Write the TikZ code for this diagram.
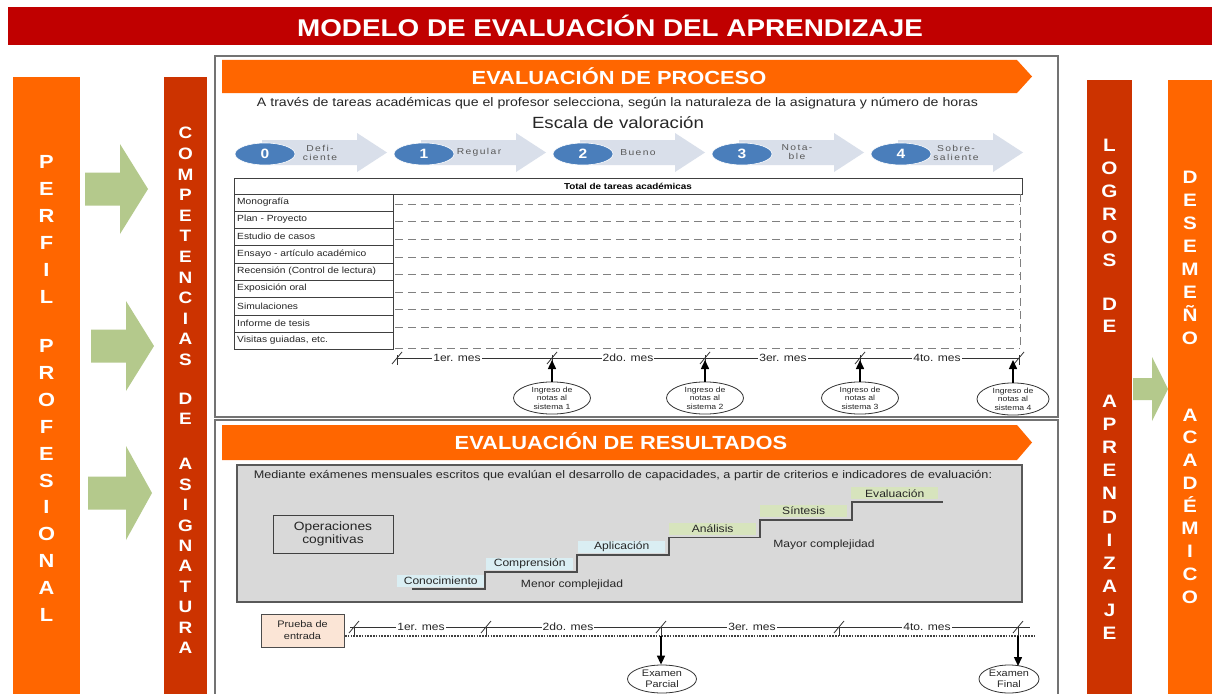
\documentclass[tikz,border=0pt]{standalone}
\usepackage{fontspec}
\setmainfont{Liberation Sans}[FakeStretch=1.15]
\newfontfamily\spacedfont{Liberation Sans}[FakeStretch=1.2,LetterSpace=16]
\usetikzlibrary{arrows.meta,shapes.geometric}
\definecolor{titlered}{HTML}{C00000}
\definecolor{orng}{HTML}{FF6600}
\definecolor{darkorng}{HTML}{CC3300}
\definecolor{agreen}{HTML}{B4C98C}
\definecolor{chev}{HTML}{D9DFEA}
\definecolor{ellblue}{HTML}{4A7EBB}
\definecolor{graybox}{HTML}{D9D9D9}
\definecolor{lblue}{HTML}{DAEEF3}
\definecolor{lgreen}{HTML}{D7E4BD}
\definecolor{peach}{HTML}{FBE5D6}
\definecolor{txtgray}{HTML}{262626}
\tikzset{
  coltext/.style={text=white, align=center, inner sep=0pt},
  boxline/.style={draw=black!55, line width=1.6pt},
  tline/.style={draw=black!75, line width=0.8pt},
  dashline/.style={draw=black!50, line width=0.9pt, dash pattern=on 8pt off 5pt},
  mlabel/.style={fill=white, inner sep=1pt, font=\fontsize{10.5}{11}\selectfont},
  smallell/.style={ellipse, draw=black!80, line width=0.8pt, fill=white, inner sep=0pt, align=center, font=\fontsize{7.5}{8.6}\selectfont},
  steplab/.style={inner sep=0pt, minimum width=87pt, minimum height=12pt, font=\fontsize{10.5}{11}\selectfont, anchor=south west},
  uparrow/.style={line width=1.5pt, -{Triangle[length=9pt,width=8pt]}},
  garrow/.style={fill=agreen}
}
\begin{document}
\begin{tikzpicture}[x=1pt,y=-1pt, font=\fontsize{10}{12}\selectfont, text=txtgray]
\useasboundingbox (0,0) rectangle (1212,693);
\fill[white] (0,0) rectangle (1212,693);

% ---------------- title
\node[fill=titlered, minimum width=1204pt, minimum height=38pt, inner sep=0pt, anchor=north west] (title) at (8,7) {};
\node[text=white, font=\fontsize{24.2}{26}\selectfont\bfseries, inner sep=0pt] (titletxt) at (610,26) {MODELO DE EVALUACIÓN DEL APRENDIZAJE};

% ---------------- side columns
\fill[orng] (13,77) rectangle (80,700);
\fill[darkorng] (164,77) rectangle (207,700);
\fill[darkorng] (1087,80) rectangle (1132,700);
\fill[orng] (1168,80) rectangle (1215,700);

\node[coltext, font=\fontsize{19}{27}\selectfont\bfseries] (perf1) at (46.5,229.5) {P\\E\\R\\F\\I\\L};
\node[coltext, font=\fontsize{19}{26.9}\selectfont\bfseries] (perf2) at (46.5,480.5) {P\\R\\O\\F\\E\\S\\I\\O\\N\\A\\L};

\node[coltext, font=\fontsize{16.5}{20.6}\selectfont\bfseries] (comp1) at (185.5,246.5) {C\\O\\M\\P\\E\\T\\E\\N\\C\\I\\A\\S};
\node[coltext, font=\fontsize{16.5}{20.4}\selectfont\bfseries] (comp2) at (185.5,409) {D\\E};
\node[coltext, font=\fontsize{16.5}{20.4}\selectfont\bfseries] (comp3) at (185.5,556) {A\\S\\I\\G\\N\\A\\T\\U\\R\\A};

\node[coltext, font=\fontsize{18}{23}\selectfont\bfseries] (log1) at (1109.5,202.5) {L\\O\\G\\R\\O\\S};
\node[coltext, font=\fontsize{18}{22}\selectfont\bfseries] (log2) at (1109.5,315) {D\\E};
\node[coltext, font=\fontsize{18}{23.2}\selectfont\bfseries] (log3) at (1109.5,517) {A\\P\\R\\E\\N\\D\\I\\Z\\A\\J\\E};

\node[coltext, font=\fontsize{18}{23.1}\selectfont\bfseries] (des1) at (1190,258) {D\\E\\S\\E\\M\\E\\Ñ\\O};
\node[coltext, font=\fontsize{18}{22.75}\selectfont\bfseries] (des2) at (1190,506) {A\\C\\A\\D\\É\\M\\I\\C\\O};

% green arrows
\fill[garrow] (85,172.5) -- (120,172.5) -- (120,144) -- (148,189) -- (120,234) -- (120,205.5) -- (85,205.5) -- cycle;
\fill[garrow] (91,329.5) -- (126,329.5) -- (126,301) -- (154,346) -- (126,391) -- (126,362.5) -- (91,362.5) -- cycle;
\fill[garrow] (88,476.5) -- (126,476.5) -- (126,446) -- (152,493) -- (126,540) -- (126,509.5) -- (88,509.5) -- cycle;
\fill[garrow] (1133,378) -- (1152,378) -- (1152,357) -- (1168,389) -- (1152,421) -- (1152,400) -- (1133,400) -- cycle;

% ---------------- main boxes
\draw[boxline] (215,56) rectangle (1058,417);
\draw[boxline] (215,420) rectangle (1058,710);

% ---------------- banner proceso
\fill[orng] (222,60) -- (1017,60) -- (1032,76.5) -- (1017,93) -- (222,93) -- cycle;
\node[text=white, font=\fontsize{19}{20}\selectfont\bfseries, inner sep=0pt] (bproc) at (619,76.5) {EVALUACIÓN DE PROCESO};

\node[inner sep=0pt, font=\fontsize{12.3}{13}\selectfont] (sub) at (617.5,103) {A través de tareas académicas que el profesor selecciona, según la naturaleza de la asignatura y número de horas};
\node[inner sep=0pt, font=\fontsize{16.2}{17}\selectfont] (escala) at (618,123) {Escala de valoración};

% scale chevrons
\foreach \i/\lab in {0/{Defi-\\ciente},1/{Regular},2/{Bueno},3/{Nota-\\ble},4/{Sobre-\\saliente}}{
  \pgfmathsetmacro\ox{159*\i}
  \fill[chev] ({262+\ox},140) -- ({357+\ox},140) -- ({357+\ox},133) -- ({387+\ox},152.5) -- ({357+\ox},172) -- ({357+\ox},165) -- ({262+\ox},165) -- cycle;
  \node[ellipse, fill=ellblue, draw=white, line width=0.6pt, minimum width=60pt, minimum height=22pt, inner sep=0pt,
        text=white, font=\bfseries\fontsize{13.5}{13.5}\selectfont] (sc\i) at ({265+\ox},154) {\i};
  \node[align=center, inner sep=0pt, text=black!65, font=\spacedfont\fontsize{8.6}{9}\selectfont] (scl\i) at ({320+\ox},152.5) {\lab};
}

% ---------------- table
\draw[tline] (234,178) rectangle (1022,194);
\node[font=\bfseries\fontsize{8.6}{10}\selectfont, inner sep=0pt, text=black] (tot) at (628,186) {Total de tareas académicas};
\draw[tline] (234,194) rectangle (393,349);
\foreach \y in {211,228,245,263,280,297,315,332} \draw[tline] (234,\y) -- (393,\y);
\foreach \yy/\lab [count=\k] in {202.5/{Monografía},219.5/{Plan - Proyecto},236.5/{Estudio de casos},254/{Ensayo - artículo académico},271.5/{Recensión (Control de lectura)},288.5/{Exposición oral},306/{Simulaciones},323.5/{Informe de tesis},340.5/{Visitas guiadas, etc.}}
  \node[anchor=west, inner sep=0pt, font=\fontsize{8.9}{10}\selectfont] (row\k) at (237,\yy) {\lab};
\foreach \y in {204,221,239,257,274,292,309,327,348} \draw[dashline] (395,\y) -- (1020,\y);
\draw[dashline] (1020,194) -- (1020,348);

% ---------------- upper timeline
\draw[line width=0.8pt, black!80] (397,358) -- (1020,358);
\foreach \x in {397,552,705,860,1019}{
  \draw[line width=0.8pt, black!80] ({\x-5},364) -- ({\x+5},352);
  \draw[line width=0.8pt, black!80] (\x,355) -- (\x,365);
}
\node[mlabel] (m1) at (457,358) {1er. mes};
\node[mlabel] (m2) at (628,358) {2do. mes};
\node[mlabel] (m3) at (783,358) {3er. mes};
\node[mlabel] (m4) at (937,358) {4to. mes};

\node[smallell, minimum width=77pt, minimum height=29pt] (ing1) at (552,398) {Ingreso de\\notas al\\sistema 1};
\node[smallell, minimum width=77pt, minimum height=29pt] (ing2) at (705,398) {Ingreso de\\notas al\\sistema 2};
\node[smallell, minimum width=77pt, minimum height=29pt] (ing3) at (860,398) {Ingreso de\\notas al\\sistema 3};
\node[smallell, minimum width=72pt, minimum height=29pt] (ing4) at (1013,399) {Ingreso de\\notas al\\sistema 4};
\coordinate (u1) at (552,360);
\coordinate (u2) at (705,360);
\coordinate (u3) at (860,360);
\coordinate (u4) at (1013,360);
\draw[uparrow] (ing1.north) -- (u1);
\draw[uparrow] (ing2.north) -- (u2);
\draw[uparrow] (ing3.north) -- (u3);
\draw[uparrow] (ing4.north) -- (u4);

% ---------------- banner resultados
\fill[orng] (222,425) -- (1017,425) -- (1032,442.5) -- (1017,460) -- (222,460) -- cycle;
\node[text=white, font=\fontsize{19}{20}\selectfont\bfseries, inner sep=0pt] (bres) at (621,441.5) {EVALUACIÓN DE RESULTADOS};

\draw[fill=graybox, draw=black!65, line width=1.2pt] (237,465) rectangle (1022,602);
\node[inner sep=0pt, font=\fontsize{11}{12}\selectfont] (med) at (623,476) {Mediante exámenes mensuales escritos que evalúan el desarrollo de capacidades, a partir de criterios e indicadores de evaluación:};

\node[draw=black!75, line width=0.9pt, minimum width=120pt, minimum height=38pt, inner sep=0pt, align=center,
      font=\fontsize{12}{13.5}\selectfont] (ops) at (333,534) {Operaciones\\cognitivas};

% staircase labels
\node[steplab, fill=lblue] (s1) at (397,587) {Conocimiento};
\node[steplab, fill=lblue] (s2) at (486,570) {Comprensión};
\node[steplab, fill=lblue] (s3) at (578,553) {Aplicación};
\node[steplab, fill=lgreen] (s4) at (669,535) {Análisis};
\node[steplab, fill=lgreen] (s5) at (760,517) {Síntesis};
\node[steplab, fill=lgreen] (s6) at (851,499.5) {Evaluación};
\draw[line width=1.8pt, black!70] (412,589) -- (485,589) -- (485,572) -- (577,572) -- (577,555) -- (669,555) -- (669,537.5) -- (760,537.5) -- (760,520) -- (852,520) -- (852,502) -- (943,502);
\node[inner sep=0pt, font=\fontsize{10.5}{11}\selectfont] (menor) at (572,585) {Menor complejidad};
\node[inner sep=0pt, font=\fontsize{10.5}{11}\selectfont] (mayor) at (824,545) {Mayor complejidad};

% ---------------- lower timeline
\node[draw=black!70, line width=1pt, fill=peach, minimum width=83pt, minimum height=33pt, inner sep=0pt, align=center,
      font=\fontsize{9.5}{12}\selectfont] (prueba) at (302.5,630.5) {Prueba de\\entrada};
\draw[line width=0.8pt, black!80] (350,627) -- (1030,627);
\draw[line width=1.6pt, black!75, dash pattern=on 1.6pt off 1.2pt] (345,636) -- (1036,636);
\foreach \x in {354,486,661,839,1018}{
  \draw[line width=0.8pt, black!80] ({\x-5},633) -- ({\x+5},621);
  \draw[line width=0.8pt, black!80] (\x,627) -- (\x,636);
}
\node[mlabel] (l1) at (421,627) {1er. mes};
\node[mlabel] (l2) at (568,627) {2do. mes};
\node[mlabel] (l3) at (752,627) {3er. mes};
\node[mlabel] (l4) at (927,627) {4to. mes};

\node[smallell, minimum width=69pt, minimum height=28pt, font=\fontsize{9.5}{11}\selectfont] (exp) at (662,679) {Examen\\Parcial};
\node[smallell, minimum width=60pt, minimum height=28pt, font=\fontsize{9.5}{11}\selectfont] (exf) at (1009,679) {Examen\\Final};
\coordinate (d1) at (661,636);
\coordinate (d2) at (1018,636);
\draw[uparrow] (d1) -- (d1 |- exp.north);
\draw[uparrow] (d2) -- (1018,666);
\end{tikzpicture}
\end{document}
